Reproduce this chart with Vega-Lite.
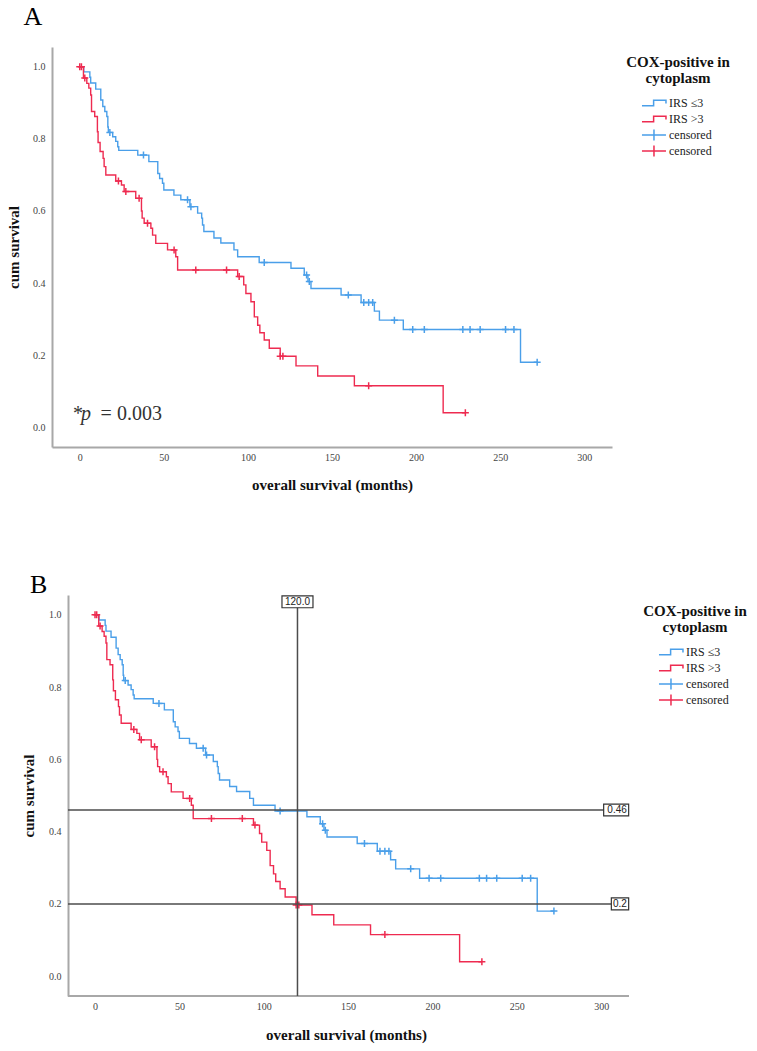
{
  "$schema": "https://vega.github.io/schema/vega-lite/v6.json",
  "padding": {"left": 5, "top": 4, "right": 5, "bottom": 5},
  "spacing": 79,
  "background": "white",
  "resolve": {"scale": {"x": "independent", "y": "independent", "color": "independent"}, "legend": {"color": "independent"}},
  "datasets": {
    "curves": [
      {"group": "IRS ≤3", "t": 0, "s": 1.0},
      {"group": "IRS ≤3", "t": 2.4, "s": 0.986},
      {"group": "IRS ≤3", "t": 6.0, "s": 0.971},
      {"group": "IRS ≤3", "t": 6.5, "s": 0.955},
      {"group": "IRS ≤3", "t": 9.5, "s": 0.938},
      {"group": "IRS ≤3", "t": 12.5, "s": 0.908},
      {"group": "IRS ≤3", "t": 13.7, "s": 0.89},
      {"group": "IRS ≤3", "t": 14.9, "s": 0.876},
      {"group": "IRS ≤3", "t": 16.1, "s": 0.862},
      {"group": "IRS ≤3", "t": 16.7, "s": 0.833},
      {"group": "IRS ≤3", "t": 17.0, "s": 0.818},
      {"group": "IRS ≤3", "t": 19.6, "s": 0.806},
      {"group": "IRS ≤3", "t": 21.4, "s": 0.793},
      {"group": "IRS ≤3", "t": 22.6, "s": 0.778},
      {"group": "IRS ≤3", "t": 23.2, "s": 0.768},
      {"group": "IRS ≤3", "t": 34.5, "s": 0.755},
      {"group": "IRS ≤3", "t": 41.1, "s": 0.737},
      {"group": "IRS ≤3", "t": 46.4, "s": 0.704},
      {"group": "IRS ≤3", "t": 47.5, "s": 0.69},
      {"group": "IRS ≤3", "t": 49.2, "s": 0.677},
      {"group": "IRS ≤3", "t": 50.0, "s": 0.658},
      {"group": "IRS ≤3", "t": 56.0, "s": 0.644},
      {"group": "IRS ≤3", "t": 60.1, "s": 0.631},
      {"group": "IRS ≤3", "t": 65.5, "s": 0.612},
      {"group": "IRS ≤3", "t": 70.1, "s": 0.594},
      {"group": "IRS ≤3", "t": 72.5, "s": 0.58},
      {"group": "IRS ≤3", "t": 73.0, "s": 0.561},
      {"group": "IRS ≤3", "t": 73.8, "s": 0.543},
      {"group": "IRS ≤3", "t": 79.8, "s": 0.525},
      {"group": "IRS ≤3", "t": 83.9, "s": 0.511},
      {"group": "IRS ≤3", "t": 91.7, "s": 0.492},
      {"group": "IRS ≤3", "t": 93.9, "s": 0.473},
      {"group": "IRS ≤3", "t": 106.7, "s": 0.457},
      {"group": "IRS ≤3", "t": 125.6, "s": 0.441},
      {"group": "IRS ≤3", "t": 133.5, "s": 0.422},
      {"group": "IRS ≤3", "t": 135.7, "s": 0.404},
      {"group": "IRS ≤3", "t": 137.5, "s": 0.385},
      {"group": "IRS ≤3", "t": 155.4, "s": 0.367},
      {"group": "IRS ≤3", "t": 167.3, "s": 0.346},
      {"group": "IRS ≤3", "t": 175.2, "s": 0.322},
      {"group": "IRS ≤3", "t": 178.2, "s": 0.297},
      {"group": "IRS ≤3", "t": 192.4, "s": 0.271},
      {"group": "IRS ≤3", "t": 262.1, "s": 0.18},
      {"group": "IRS ≤3", "t": 272.0, "s": 0.18},
      {"group": "IRS >3", "t": 0, "s": 1.0},
      {"group": "IRS >3", "t": 2.2, "s": 0.969},
      {"group": "IRS >3", "t": 4.2, "s": 0.954},
      {"group": "IRS >3", "t": 5.4, "s": 0.941},
      {"group": "IRS >3", "t": 6.5, "s": 0.922},
      {"group": "IRS >3", "t": 7.0, "s": 0.876},
      {"group": "IRS >3", "t": 8.9, "s": 0.862},
      {"group": "IRS >3", "t": 10.5, "s": 0.82},
      {"group": "IRS >3", "t": 10.9, "s": 0.79},
      {"group": "IRS >3", "t": 12.1, "s": 0.765},
      {"group": "IRS >3", "t": 13.9, "s": 0.746},
      {"group": "IRS >3", "t": 14.5, "s": 0.723},
      {"group": "IRS >3", "t": 15.5, "s": 0.70},
      {"group": "IRS >3", "t": 21.4, "s": 0.683},
      {"group": "IRS >3", "t": 24.8, "s": 0.672},
      {"group": "IRS >3", "t": 26.4, "s": 0.654},
      {"group": "IRS >3", "t": 33.3, "s": 0.635},
      {"group": "IRS >3", "t": 36.7, "s": 0.60},
      {"group": "IRS >3", "t": 37.1, "s": 0.58},
      {"group": "IRS >3", "t": 38.3, "s": 0.566},
      {"group": "IRS >3", "t": 42.3, "s": 0.552},
      {"group": "IRS >3", "t": 43.3, "s": 0.533},
      {"group": "IRS >3", "t": 45.2, "s": 0.51},
      {"group": "IRS >3", "t": 52.2, "s": 0.492},
      {"group": "IRS >3", "t": 57.1, "s": 0.473},
      {"group": "IRS >3", "t": 58.2, "s": 0.436},
      {"group": "IRS >3", "t": 93.9, "s": 0.418},
      {"group": "IRS >3", "t": 97.5, "s": 0.395},
      {"group": "IRS >3", "t": 98.8, "s": 0.371},
      {"group": "IRS >3", "t": 101.8, "s": 0.348},
      {"group": "IRS >3", "t": 103.8, "s": 0.306},
      {"group": "IRS >3", "t": 105.8, "s": 0.283},
      {"group": "IRS >3", "t": 107.1, "s": 0.262},
      {"group": "IRS >3", "t": 109.7, "s": 0.242},
      {"group": "IRS >3", "t": 112.7, "s": 0.219},
      {"group": "IRS >3", "t": 119.2, "s": 0.197},
      {"group": "IRS >3", "t": 128.6, "s": 0.17},
      {"group": "IRS >3", "t": 141.5, "s": 0.142},
      {"group": "IRS >3", "t": 163.3, "s": 0.115},
      {"group": "IRS >3", "t": 216.1, "s": 0.04},
      {"group": "IRS >3", "t": 229.3, "s": 0.04}
    ],
    "censors": [
      {"key": "censored1", "t": 17.9, "s": 0.818},
      {"key": "censored1", "t": 37.9, "s": 0.755},
      {"key": "censored1", "t": 64.1, "s": 0.631},
      {"key": "censored1", "t": 66.1, "s": 0.612},
      {"key": "censored1", "t": 109.7, "s": 0.457},
      {"key": "censored1", "t": 134.9, "s": 0.422},
      {"key": "censored1", "t": 136.5, "s": 0.404},
      {"key": "censored1", "t": 159.7, "s": 0.367},
      {"key": "censored1", "t": 168.9, "s": 0.346},
      {"key": "censored1", "t": 171.8, "s": 0.346},
      {"key": "censored1", "t": 174.2, "s": 0.346},
      {"key": "censored1", "t": 187.1, "s": 0.297},
      {"key": "censored1", "t": 198.0, "s": 0.271},
      {"key": "censored1", "t": 204.9, "s": 0.271},
      {"key": "censored1", "t": 227.8, "s": 0.271},
      {"key": "censored1", "t": 232.1, "s": 0.271},
      {"key": "censored1", "t": 238.1, "s": 0.271},
      {"key": "censored1", "t": 253.2, "s": 0.271},
      {"key": "censored1", "t": 258.2, "s": 0.271},
      {"key": "censored1", "t": 272.0, "s": 0.18},
      {"key": "censored2", "t": 0.0, "s": 1.0},
      {"key": "censored2", "t": 1.0, "s": 1.0},
      {"key": "censored2", "t": 3.0, "s": 0.969},
      {"key": "censored2", "t": 23.0, "s": 0.683},
      {"key": "censored2", "t": 27.4, "s": 0.654},
      {"key": "censored2", "t": 35.3, "s": 0.635},
      {"key": "censored2", "t": 40.3, "s": 0.566},
      {"key": "censored2", "t": 56.1, "s": 0.492},
      {"key": "censored2", "t": 69.0, "s": 0.436},
      {"key": "censored2", "t": 87.3, "s": 0.436},
      {"key": "censored2", "t": 94.8, "s": 0.418},
      {"key": "censored2", "t": 119.2, "s": 0.197},
      {"key": "censored2", "t": 120.8, "s": 0.197},
      {"key": "censored2", "t": 171.8, "s": 0.115},
      {"key": "censored2", "t": 229.3, "s": 0.04}
    ],
    "refX": [{"months": 120}],
    "refY": [{"survival": 0.46}, {"survival": 0.2}]
  },
  "vconcat": [
    {
      "title": {"text": "A", "dx": 18, "offset": 17},
      "width": 560,
      "height": 400,
      "layer": [
        {
          "data": {"name": "curves"},
          "mark": {"type": "line", "interpolate": "step-after", "strokeWidth": 1.4},
          "encoding": {
            "x": {"field": "t", "type": "quantitative", "scale": {"domain": [-16.5, 316.5], "nice": false, "zero": false},
                  "axis": {"values": [0, 50, 100, 150, 200, 250, 300], "title": "overall survival (months)", "titleY": 37}},
            "y": {"field": "s", "type": "quantitative", "scale": {"domain": [-0.055, 1.055], "nice": false, "zero": false},
                  "axis": {"values": [0, 0.2, 0.4, 0.6, 0.8, 1], "format": ".1f", "title": "cum survival", "tickSize": 46, "labelPadding": -39, "titleX": -39, "titleY": 200}},
            "color": {"field": "group", "type": "nominal",
                      "scale": {"domain": ["IRS ≤3", "IRS >3", "censored1", "censored2"], "range": ["#4A9FE9", "#EE2B50", "#4A9FE9", "#EE2B50"]},
                      "legend": {"title": ["COX-positive in", "cytoplasm"], "orient": "none", "legendX": 574, "legendY": 8,
                                 "labelExpr": "indexof(datum.label, 'censored') == 0 ? 'censored' : datum.label",
                                 "encode": {"symbols": {"update": {"shape": {"signal": "indexof(datum.value, 'censored') == 0 ? 'M-1.67,0H2.33M0.33,-0.9V0.9' : 'M-1.67,0.45H0.27V-0.45H2.33V0.1'"}}}}}}
          }
        },
        {
          "data": {"name": "censors"},
          "mark": {"type": "point", "shape": "M-1,0H1M0,-1V1", "filled": false, "size": 49, "strokeWidth": 1.5, "opacity": 1},
          "encoding": {
            "x": {"field": "t", "type": "quantitative"},
            "y": {"field": "s", "type": "quantitative"},
            "color": {"field": "key", "type": "nominal",
                      "legend": {"title": ["COX-positive in", "cytoplasm"], "orient": "none", "legendX": 574, "legendY": 8,
                                 "labelExpr": "indexof(datum.label, 'censored') == 0 ? 'censored' : datum.label",
                                 "encode": {"symbols": {"update": {"shape": {"signal": "indexof(datum.value, 'censored') == 0 ? 'M-1.67,0H2.33M0.33,-0.9V0.9' : 'M-1.67,0.45H0.27V-0.45H2.33V0.1'"}}}}}}
          }
        },
        {
          "data": {"values": [{"p": 0.003}]},
          "mark": {"type": "text", "text": "*", "align": "left", "baseline": "alphabetic", "fontSize": 20, "font": "Liberation Serif", "color": "#333"},
          "encoding": {"x": {"datum": -4.0}, "y": {"datum": 0.019}}
        },
        {
          "data": {"values": [{"p": 0.003}]},
          "mark": {"type": "text", "text": "p", "align": "left", "baseline": "alphabetic", "fontSize": 20, "font": "Liberation Serif", "fontStyle": "italic", "color": "#333"},
          "encoding": {"x": {"datum": 0.8}, "y": {"datum": 0.019}}
        },
        {
          "data": {"values": [{"p": 0.003}]},
          "mark": {"type": "text", "text": "= 0.003", "align": "left", "baseline": "alphabetic", "fontSize": 20, "font": "Liberation Serif", "color": "#333"},
          "encoding": {"x": {"datum": 12.4}, "y": {"datum": 0.019}}
        }
      ]
    },
    {
      "title": {"text": "B", "dx": 9, "offset": -4},
      "width": 577,
      "height": 401,
      "layer": [
        {
          "data": {"name": "curves"},
          "mark": {"type": "line", "interpolate": "step-after", "strokeWidth": 1.4},
          "encoding": {
            "x": {"field": "t", "type": "quantitative", "scale": {"domain": [-25.5, 316.5], "nice": false, "zero": false},
                  "axis": {"values": [0, 50, 100, 150, 200, 250, 300], "title": "overall survival (months)", "titleY": 38, "titleX": 294, "domain": false}},
            "y": {"field": "s", "type": "quantitative", "scale": {"domain": [-0.055, 1.055], "nice": false, "zero": false},
                  "axis": {"values": [0, 0.2, 0.4, 0.6, 0.8, 1], "format": ".1f", "title": "cum survival", "offset": -16, "tickSize": 46, "labelPadding": -39, "titleX": -40, "titleY": 200.5}},
            "color": {"field": "group", "type": "nominal",
                      "scale": {"domain": ["IRS ≤3", "IRS >3", "censored1", "censored2"], "range": ["#4A9FE9", "#EE2B50", "#4A9FE9", "#EE2B50"]},
                      "legend": {"title": ["COX-positive in", "cytoplasm"], "orient": "none", "legendX": 591, "legendY": 9,
                                 "labelExpr": "indexof(datum.label, 'censored') == 0 ? 'censored' : datum.label",
                                 "encode": {"symbols": {"update": {"shape": {"signal": "indexof(datum.value, 'censored') == 0 ? 'M-1.67,0H2.33M0.33,-0.9V0.9' : 'M-1.67,0.45H0.27V-0.45H2.33V0.1'"}}}}}}
          }
        },
        {
          "data": {"name": "censors"},
          "mark": {"type": "point", "shape": "M-1,0H1M0,-1V1", "filled": false, "size": 49, "strokeWidth": 1.5, "opacity": 1},
          "encoding": {
            "x": {"field": "t", "type": "quantitative"},
            "y": {"field": "s", "type": "quantitative"},
            "color": {"field": "key", "type": "nominal",
                      "legend": {"title": ["COX-positive in", "cytoplasm"], "orient": "none", "legendX": 591, "legendY": 9,
                                 "labelExpr": "indexof(datum.label, 'censored') == 0 ? 'censored' : datum.label",
                                 "encode": {"symbols": {"update": {"shape": {"signal": "indexof(datum.value, 'censored') == 0 ? 'M-1.67,0H2.33M0.33,-0.9V0.9' : 'M-1.67,0.45H0.27V-0.45H2.33V0.1'"}}}}}}
          }
        },
        {
          "data": {"values": [{}]},
          "mark": {"type": "rule", "color": "#a8a8a8", "strokeWidth": 2},
          "encoding": {"x": {"datum": -16}, "x2": {"datum": 316.5}, "y": {"datum": -0.055}}
        },
        {
          "data": {"name": "refX"},
          "mark": {"type": "rule", "color": "#4d4d4d", "strokeWidth": 1.5},
          "encoding": {"x": {"field": "months", "type": "quantitative"}, "y": {"datum": 1.036}, "y2": {"datum": -0.055}}
        },
        {
          "data": {"name": "refY"},
          "mark": {"type": "rule", "color": "#4d4d4d", "strokeWidth": 1.5},
          "encoding": {"y": {"field": "survival", "type": "quantitative"}, "x": {"datum": -16}, "x2": {"datum": 312}}
        },
        {
          "data": {"name": "refX"},
          "mark": {"type": "point", "shape": "M-1,-0.38H1V0.38H-1Z", "size": 961, "filled": true, "fill": "white", "stroke": "#333", "strokeWidth": 1.2, "opacity": 1},
          "encoding": {"x": {"field": "months", "type": "quantitative"}, "y": {"datum": 1.036}}
        },
        {
          "data": {"name": "refX"},
          "mark": {"type": "text", "align": "center", "baseline": "middle", "font": "Liberation Sans", "fontSize": 10, "color": "#222"},
          "encoding": {"x": {"field": "months", "type": "quantitative"}, "y": {"datum": 1.036}, "text": {"field": "months", "format": ".1f"}}
        },
        {
          "data": {"name": "refY"},
          "transform": [{"filter": "datum.survival == 0.46"}],
          "mark": {"type": "point", "shape": "M-2,-0.47H0V0.47H-2Z", "size": 625, "filled": true, "fill": "white", "stroke": "#333", "strokeWidth": 1.2, "opacity": 1},
          "encoding": {"y": {"field": "survival", "type": "quantitative"}, "x": {"datum": 316.3}}
        },
        {
          "data": {"name": "refY"},
          "transform": [{"filter": "datum.survival == 0.2"}],
          "mark": {"type": "point", "shape": "M-2,-0.69H0V0.69H-2Z", "size": 300, "filled": true, "fill": "white", "stroke": "#333", "strokeWidth": 1.2, "opacity": 1},
          "encoding": {"y": {"field": "survival", "type": "quantitative"}, "x": {"datum": 316.3}}
        },
        {
          "data": {"name": "refY"},
          "mark": {"type": "text", "align": "right", "baseline": "middle", "font": "Liberation Sans", "fontSize": 10, "color": "#222"},
          "encoding": {"y": {"field": "survival", "type": "quantitative"}, "x": {"datum": 315.2}, "text": {"field": "survival", "type": "quantitative"}}
        }
      ]
    }
  ],
  "config": {
    "view": {"stroke": null},
    "font": "Liberation Serif",
    "axis": {"domainColor": "#a8a8a8", "domainWidth": 2, "grid": false, "labelFont": "Liberation Serif", "labelFontSize": 10, "labelColor": "#444",
             "titleFont": "Liberation Serif", "titleFontSize": 15, "titleFontWeight": "bold", "titleColor": "#111"},
    "axisX": {"ticks": false, "labelPadding": 5, "titleBaseline": "middle"},
    "axisY": {"tickColor": "transparent", "titleBaseline": "middle"},
    "legend": {"orient": "none", "padding": 0, "titleFont": "Liberation Serif", "titleFontSize": 15, "titleFontWeight": "bold", "titleColor": "#111",
               "titleLineHeight": 16, "titleAlign": "center", "titleAnchor": "middle", "titlePadding": 10,
               "labelFont": "Liberation Serif", "labelFontSize": 12, "labelColor": "#222", "labelOffset": 10, "labelLimit": 0,
               "symbolSize": 144, "symbolStrokeWidth": 1.5, "rowPadding": -5, "gridAlign": "all"},
    "title": {"anchor": "start", "frame": "bounds", "baseline": "alphabetic", "fontSize": 26, "fontWeight": "normal", "font": "Liberation Serif", "color": "#000"}
  }
}
